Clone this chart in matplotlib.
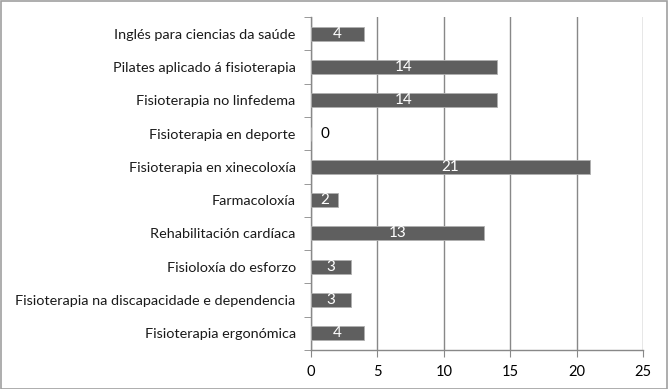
import matplotlib
matplotlib.use("Agg")
import matplotlib.pyplot as plt
import numpy as np

categories = [
    "Inglés para ciencias da saúde",
    "Pilates aplicado á fisioterapia",
    "Fisioterapia no linfedema",
    "Fisioterapia en deporte",
    "Fisioterapia en xinecoloxía",
    "Farmacoloxía",
    "Rehabilitación cardíaca",
    "Fisioloxía do esforzo",
    "Fisioterapia na discapacidade e dependencia",
    "Fisioterapia ergonómica",
]
values = [4, 14, 14, 0, 21, 2, 13, 3, 3, 4]
xticks = [0, 5, 10, 15, 20, 25]

plt.rcParams['font.family'] = ['Lato', 'DejaVu Sans']

fig = plt.figure(figsize=(6.68, 3.89), dpi=100)
ax = fig.add_axes([311/668, 1-350/389, (643-311)/668, (350-17)/389])

n = len(categories)
y = np.arange(n)
ax.barh(y, values, height=0.42, color='#5f5f5f', edgecolor='#b0b0b0', linewidth=0.6, zorder=3)
ax.set_ylim(n - 0.5, -0.5)
ax.set_xlim(0, 25)
ax.set_xticks(xticks)
ax.set_xticklabels([str(t) for t in xticks], fontsize=10.5)
ax.set_yticks(y)
ax.set_yticklabels(categories, fontsize=10.4, color='#1a1a1a')
ax.set_yticks(np.arange(-0.5, n, 1), minor=True)
ax.tick_params(axis='y', which='major', length=0, pad=11)
ax.tick_params(axis='y', which='minor', length=5, color='#888888', direction='out')
ax.tick_params(axis='x', which='major', length=5, color='#888888', direction='out', pad=6)
ax.grid(axis='x', color='#888888', linewidth=1.0, zorder=0)
for s in ['top', 'right']:
    ax.spines[s].set_visible(False)
for s in ['left', 'bottom']:
    ax.spines[s].set_color('#888888')
    ax.spines[s].set_linewidth(1.0)

for yi, v in zip(y, values):
    if v == 0:
        ax.annotate(str(v), (0, yi), xytext=(10, 0), textcoords='offset points',
                    ha='center', va='center', color='black', fontsize=11)
    else:
        ax.text(v / 2, yi, str(v), ha='center', va='center', color='white', fontsize=11, zorder=4)

border = plt.Rectangle((0.001, 0.001), 0.997, 0.997, transform=fig.transFigure,
                       fill=False, edgecolor='#a0a0a0', linewidth=1.2)
fig.patches.append(border)

fig.savefig("out.png", dpi=100)
